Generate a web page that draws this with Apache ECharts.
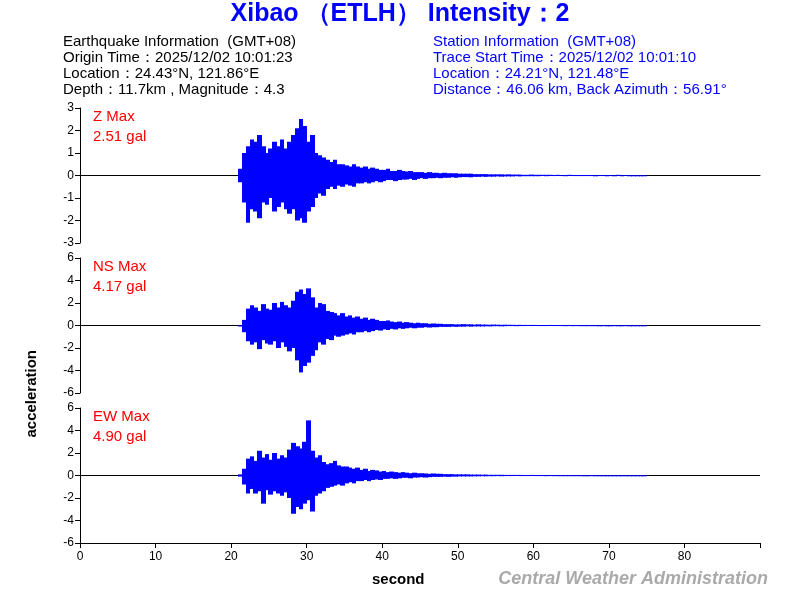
<!DOCTYPE html>
<html>
<head>
<meta charset="utf-8">
<script src="https://cdn.jsdelivr.net/npm/echarts@6/dist/echarts.min.js"></script>
<style>html,body{margin:0;background:#fff}#main{width:800px;height:600px}</style>
</head>
<body>
<div id="main"></div>
<script>
// 波形峰值：每0.5秒一个上峰和一个下峰（从 t0 开始）
var t0 = 21.0;
var step = 0.5;

var zUp = [0.3,1.0,1.3,1.6, 1.5,1.8,1.3,1.0, 1.2,1.5,1.3,1.6, 1.2,1.5,1.8,2.1, 2.51,2.2,1.5,1.8,
  1.0,0.9,0.8,0.7, 0.6,0.7,0.5,0.5, 0.45,0.4,0.5,0.4, 0.35,0.4,0.3,0.35, 0.3,0.25,0.25,0.3,
  0.2,0.2,0.25,0.2, 0.18,0.2,0.15,0.15, 0.15,0.12,0.15,0.12, 0.12,0.1,0.12,0.1, 0.1,0.1,0.08,0.08,
  0.08,0.08,0.06,0.06, 0.06,0.06,0.05,0.05, 0.05,0.05,0.04,0.05, 0.04,0.04,0.04,0.03, 0.03,0.04,0.03,0.03,
  0.03,0.03,0.03,0.02, 0.03,0.02,0.02,0.03, 0.02,0.02,0.02,0.02, 0.02,0.02,0.01,0.02, 0.02,0.01,0.02,0.01,
  0.03,0.01,0.02,0.01, 0.01,0.01,0.01,0.01];
var zDown = [-0.3,-1.2,-2.1,-1.5, -1.6,-1.9,-1.2,-1.3, -1.0,-1.6,-1.4,-1.2, -1.5,-1.7,-1.5,-2.0, -1.9,-2.1,-1.6,-1.4,
  -1.0,-0.8,-0.9,-0.6, -0.5,-0.6,-0.45,-0.5, -0.4,-0.45,-0.5,-0.35, -0.35,-0.3,-0.35,-0.3, -0.25,-0.3,-0.25,-0.2,
  -0.2,-0.25,-0.2,-0.18, -0.18,-0.15,-0.2,-0.15, -0.12,-0.15,-0.12,-0.12, -0.1,-0.12,-0.1,-0.1, -0.08,-0.1,-0.08,-0.07,
  -0.07,-0.08,-0.06,-0.06, -0.05,-0.06,-0.05,-0.05, -0.04,-0.05,-0.04,-0.04, -0.04,-0.03,-0.04,-0.03, -0.03,-0.03,-0.03,-0.03,
  -0.02,-0.03,-0.02,-0.02, -0.02,-0.02,-0.03,-0.02, -0.02,-0.02,-0.01,-0.02, -0.01,-0.02,-0.01,-0.02, -0.01,-0.01,-0.02,-0.01,
  -0.01,-0.02,-0.01,-0.01, -0.01,-0.01,-0.01,-0.01];

var nsUp = [0.0,0.5,1.5,1.8, 1.6,1.3,1.9,1.5, 1.4,2.0,1.6,2.1, 1.8,1.6,2.2,3.0, 3.2,2.8,3.3,2.5,
  1.6,2.0,1.9,1.3, 1.2,1.1,0.9,1.1, 0.8,0.9,0.7,0.8, 0.6,0.7,0.5,0.6, 0.5,0.4,0.4,0.45,
  0.35,0.3,0.35,0.25, 0.3,0.25,0.2,0.25, 0.2,0.2,0.15,0.18, 0.15,0.15,0.12,0.12, 0.12,0.1,0.1,0.12,
  0.1,0.1,0.08,0.1, 0.08,0.08,0.07,0.08, 0.07,0.06,0.07,0.06, 0.06,0.05,0.06,0.05, 0.05,0.05,0.05,0.04,
  0.04,0.04,0.05,0.04, 0.04,0.04,0.03,0.04, 0.03,0.04,0.03,0.03, 0.03,0.03,0.03,0.02, 0.03,0.02,0.02,0.03,
  0.02,0.02,0.03,0.02, 0.02,0.02,0.02,0.02];
var nsDown = [0.0,-0.6,-1.4,-1.7, -1.5,-2.1,-1.3,-1.6, -1.7,-1.4,-2.0,-1.5, -1.9,-2.3,-2.0,-3.1, -4.17,-3.6,-3.3,-2.7,
  -2.2,-1.5,-1.7,-1.2, -1.3,-0.9,-1.0,-0.9, -0.8,-0.7,-0.8,-0.6, -0.6,-0.5,-0.6,-0.5, -0.4,-0.45,-0.35,-0.4,
  -0.3,-0.35,-0.25,-0.3, -0.25,-0.2,-0.25,-0.2, -0.2,-0.15,-0.18,-0.15, -0.15,-0.12,-0.12,-0.12, -0.1,-0.12,-0.1,-0.1,
  -0.08,-0.1,-0.08,-0.08, -0.08,-0.07,-0.08,-0.06, -0.06,-0.07,-0.06,-0.05, -0.05,-0.06,-0.05,-0.05, -0.04,-0.05,-0.04,-0.04,
  -0.04,-0.04,-0.03,-0.04, -0.03,-0.04,-0.03,-0.03, -0.03,-0.03,-0.03,-0.02, -0.02,-0.03,-0.02,-0.02, -0.02,-0.02,-0.02,-0.02,
  -0.02,-0.02,-0.02,-0.02, -0.02,-0.02,-0.02,-0.02];

var ewUp = [0.1,0.6,1.5,1.7, 1.3,2.2,1.6,1.9, 1.4,2.0,1.5,1.8, 1.6,2.3,2.9,2.6, 2.4,3.0,4.9,2.2,
  1.6,1.8,1.2,1.0, 1.1,1.3,0.9,0.8, 0.8,0.7,0.6,0.7, 0.5,0.6,0.4,0.5, 0.45,0.35,0.4,0.3,
  0.35,0.3,0.25,0.3, 0.25,0.2,0.25,0.2, 0.2,0.18,0.15,0.18, 0.15,0.15,0.12,0.12, 0.12,0.1,0.1,0.1,
  0.1,0.08,0.08,0.08, 0.07,0.08,0.06,0.06, 0.06,0.06,0.05,0.05, 0.05,0.05,0.05,0.04, 0.04,0.05,0.04,0.04,
  0.04,0.03,0.04,0.03, 0.03,0.03,0.03,0.03, 0.03,0.03,0.03,0.02, 0.02,0.03,0.02,0.02, 0.02,0.02,0.02,0.02,
  0.02,0.02,0.02,0.02, 0.02,0.02,0.02,0.02];
var ewDown = [-0.1,-0.8,-1.6,-1.2, -1.6,-1.4,-2.5,-1.3, -1.7,-1.4,-1.6,-1.8, -1.5,-2.0,-3.4,-2.8, -3.0,-2.5,-2.2,-3.2,
  -1.8,-1.6,-1.4,-1.1, -1.0,-0.9,-0.8,-0.9, -0.7,-0.6,-0.7,-0.5, -0.5,-0.4,-0.5,-0.4, -0.35,-0.4,-0.3,-0.3,
  -0.25,-0.3,-0.25,-0.2, -0.2,-0.25,-0.18,-0.18, -0.15,-0.18,-0.15,-0.12, -0.12,-0.12,-0.1,-0.12, -0.1,-0.1,-0.08,-0.08,
  -0.08,-0.08,-0.07,-0.07, -0.06,-0.07,-0.06,-0.06, -0.05,-0.06,-0.05,-0.05, -0.05,-0.04,-0.05,-0.04, -0.04,-0.04,-0.04,-0.04,
  -0.03,-0.04,-0.03,-0.03, -0.03,-0.03,-0.03,-0.02, -0.02,-0.03,-0.02,-0.02, -0.02,-0.02,-0.02,-0.02, -0.02,-0.02,-0.02,-0.02,
  -0.02,-0.02,-0.02,-0.02, -0.02,-0.02,-0.02,-0.02];

var panels = [
  {name: 'Z', up: zUp, down: zDown, range: 3, interval: 1, label: 'Z Max', max: '2.51 gal'},
  {name: 'NS', up: nsUp, down: nsDown, range: 6, interval: 2, label: 'NS Max', max: '4.17 gal'},
  {name: 'EW', up: ewUp, down: ewDown, range: 6, interval: 2, label: 'EW Max', max: '4.90 gal'}
];
var gridTops = [108, 258, 408];

// 每个时间窗一个 [t, 下峰, 上峰]
function buildBins(up, down) {
  return up.map(function(u, i) { return [t0 + i * step, down[i], u]; });
}

// 每个窗画成竖条（像密集波形）
function renderBin(params, api) {
  var t = api.value(0);
  var lo = api.coord([t, api.value(1)]);
  var hi = api.coord([t + step, api.value(2)]);
  var x0 = Math.floor(lo[0]), w = Math.max(1, Math.ceil(hi[0]) - x0);
  return {type: 'rect', shape: {x: x0, y: hi[1], width: w, height: Math.max(1, lo[1] - hi[1])},
    style: {fill: '#0000ff'}};
}

var grids = [], xAxes = [], yAxes = [], series = [], graphics = [];
panels.forEach(function(p, i) {
  var last = i === panels.length - 1;
  grids.push({left: 80, right: 40, top: gridTops[i], height: 135});
  xAxes.push({
    gridIndex: i, type: 'value', min: 0, max: 90, interval: 10,
    axisLine: {show: true, onZero: !last, lineStyle: {color: '#000', width: 1}},
    axisTick: {show: last, lineStyle: {color: '#000'}},
    axisLabel: {show: last, color: '#000', fontSize: 12, fontFamily: 'Liberation Sans',
      formatter: function(v) { return v === 90 ? '' : v; }},
    splitLine: {show: false}
  });
  yAxes.push({
    gridIndex: i, type: 'value', min: -p.range, max: p.range, interval: p.interval,
    axisLine: {show: true, onZero: false, lineStyle: {color: '#000'}},
    axisTick: {show: true, lineStyle: {color: '#000'}},
    axisLabel: {color: '#000', fontSize: 12, fontFamily: 'Liberation Sans', margin: 6},
    splitLine: {show: false}
  });
  // 零线
  series.push({
    type: 'line', xAxisIndex: i, yAxisIndex: i, data: [[0, 0], [90, 0]], showSymbol: false,
    lineStyle: {color: '#000', width: 1}, silent: true, z: 1
  });
  series.push({
    type: 'custom', xAxisIndex: i, yAxisIndex: i, data: buildBins(p.up, p.down),
    renderItem: renderBin, encode: {x: 0, y: [1, 2]}, animation: false, silent: true, clip: true, z: 5
  });
  graphics.push({type: 'text', left: 93, top: gridTops[i] + 1,
    style: {text: p.label, fill: '#ff0000', font: '15px "Liberation Sans"'}});
  graphics.push({type: 'text', left: 93, top: gridTops[i] + 21,
    style: {text: p.max, fill: '#ff0000', font: '15px "Liberation Sans"'}});
});

var infoLeft = ['Earthquake Information  (GMT+08)', 'Origin Time：2025/12/02 10:01:23',
  'Location：24.43°N, 121.86°E', 'Depth：11.7km , Magnitude：4.3'];
var infoRight = ['Station Information  (GMT+08)', 'Trace Start Time：2025/12/02 10:01:10',
  'Location：24.21°N, 121.48°E', 'Distance：46.06 km, Back Azimuth：56.91°'];
infoLeft.forEach(function(t, k) {
  graphics.push({type: 'text', left: 63, top: 34 + k * 16,
    style: {text: t, fill: '#000', font: '15px "Liberation Sans"'}});
});
infoRight.forEach(function(t, k) {
  graphics.push({type: 'text', left: 433, top: 34 + k * 16,
    style: {text: t, fill: '#0000ff', font: '15px "Liberation Sans"'}});
});
graphics.push({type: 'text', left: 'center', top: 2,
  style: {text: 'Xibao （ETLH） Intensity：2', fill: '#0000ff', font: 'bold 25px "Liberation Sans"'}});
graphics.push({type: 'text', left: 372, top: 572,
  style: {text: 'second', fill: '#000', font: 'bold 15px "Liberation Sans"'}});
graphics.push({type: 'text', right: 32, top: 570,
  style: {text: 'Central Weather Administration', fill: '#aaaaaa', font: 'italic bold 18px "Liberation Sans"'}});
graphics.push({type: 'text', left: 24, top: 350, rotation: Math.PI / 2,
  style: {text: 'acceleration', fill: '#000', font: 'bold 15px "Liberation Sans"'}});

var chart = echarts.init(document.getElementById('main'));
chart.setOption({
  backgroundColor: '#fff',
  animation: false,
  grid: grids, xAxis: xAxes, yAxis: yAxes, series: series, graphic: graphics
});
</script>
</body>
</html>
